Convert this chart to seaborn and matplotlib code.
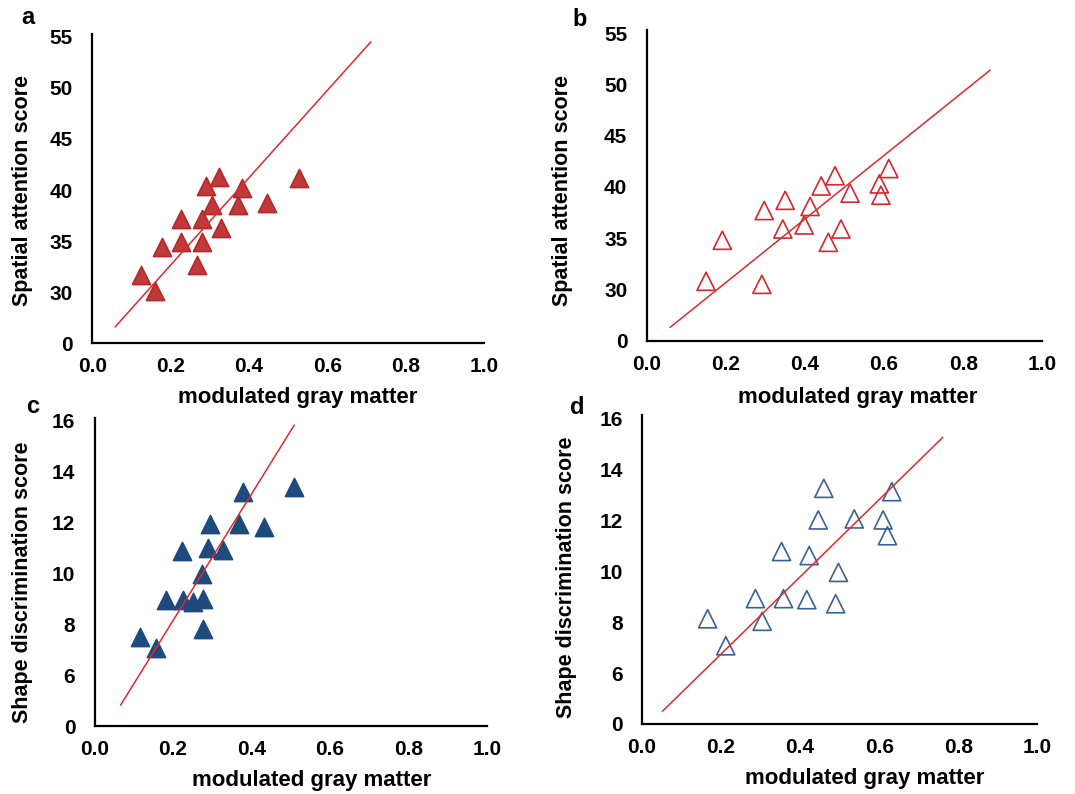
import matplotlib
matplotlib.use("Agg")
import matplotlib.pyplot as plt
import seaborn as sns
import pandas as pd
import numpy as np

sns.set_theme(style="white")
plt.rcParams['font.family'] = ['Liberation Sans', 'DejaVu Sans']
plt.rcParams['font.weight'] = 'bold'

# ---- data ----
a_x = [0.125, 0.160, 0.177, 0.226, 0.226, 0.267, 0.279, 0.279, 0.289, 0.306, 0.323, 0.328, 0.373, 0.381, 0.445, 0.528]
a_y = [31.7, 30.1, 34.4, 37.2, 34.9, 32.7, 34.9, 37.2, 40.4, 38.5, 41.3, 36.3, 38.5, 40.2, 38.7, 41.2]
a_line_x = [0.058, 0.711]
a_line_y = [26.6, 54.5]

b_x = [0.150, 0.191, 0.291, 0.297, 0.350, 0.344, 0.398, 0.413, 0.441, 0.459, 0.476, 0.491, 0.514, 0.588, 0.592, 0.612]
b_y = [30.8, 34.8, 30.5, 37.7, 38.7, 35.9, 36.3, 38.1, 40.1, 34.6, 41.1, 35.9, 39.4, 40.3, 39.2, 41.8]
b_line_x = [0.059, 0.868]
b_line_y = [26.3, 51.4]

c_x = [0.116, 0.156, 0.181, 0.222, 0.226, 0.250, 0.273, 0.277, 0.276, 0.288, 0.294, 0.327, 0.367, 0.379, 0.432, 0.509]
c_y = [7.48, 7.05, 8.95, 10.89, 8.95, 8.88, 9.97, 8.98, 7.83, 10.98, 11.96, 10.91, 11.96, 13.21, 11.83, 13.38]
c_line_x = [0.066, 0.509]
c_line_y = [4.82, 15.83]

d_x = [0.166, 0.212, 0.287, 0.304, 0.353, 0.358, 0.417, 0.423, 0.446, 0.460, 0.490, 0.497, 0.537, 0.610, 0.621, 0.632]
d_y = [8.13, 7.07, 8.92, 8.03, 10.77, 8.92, 8.88, 10.61, 12.01, 13.25, 8.72, 9.95, 12.05, 12.01, 11.39, 13.12]
d_line_x = [0.052, 0.761]
d_line_y = [4.5, 15.25]

x_ticks = [0.0, 0.2, 0.4, 0.6, 0.8, 1.0]
x_tick_labels = ["0.0", "0.2", "0.4", "0.6", "0.8", "1.0"]
att_ticks = [25, 30, 35, 40, 45, 50, 55]
att_tick_labels = ["0", "30", "35", "40", "45", "50", "55"]
shape_ticks = [4, 6, 8, 10, 12, 14, 16]
shape_tick_labels = ["0", "6", "8", "10", "12", "14", "16"]

xlabel = "modulated gray matter"
ylabel_att = "Spatial attention score"
ylabel_shape = "Shape discrimination score"
panel_letters = ["a", "b", "c", "d"]

RED_FILL = "#c0393b"
RED_EDGE = "#b52828"
RED_OPEN = "#d8262b"
BLUE_FILL = "#1f4a7e"
BLUE_OPEN = "#3b6194"
LINE_RED = "#e0282c"

fig = plt.figure(figsize=(10.75, 7.94), dpi=100)

panels = [
    dict(rect=[0.0859, 0.5676, 0.3644, 0.3861], x=a_x, y=a_y, lx=a_line_x, ly=a_line_y,
         fc=RED_FILL, ec=RED_EDGE, lw=1.2, ticks=att_ticks, tl=att_tick_labels, ylab=ylabel_att,
         ylim=(25, 55), xlc=(0.525, -0.176), ylc=(-0.178, 0.5), letter=(28, 18)),
    dict(rect=[0.6016, 0.5709, 0.3680, 0.3872], x=b_x, y=b_y, lx=b_line_x, ly=b_line_y,
         fc="none", ec=RED_OPEN, lw=1.2, ticks=att_ticks, tl=att_tick_labels, ylab=ylabel_att,
         ylim=(25, 55), xlc=(0.534, -0.186), ylc=(-0.212, 0.49), letter=(580, 20)),
    dict(rect=[0.0881, 0.0856, 0.3647, 0.3845], x=c_x, y=c_y, lx=c_line_x, ly=c_line_y,
         fc=BLUE_FILL, ec=BLUE_FILL, lw=1.2, ticks=shape_ticks, tl=shape_tick_labels, ylab=ylabel_shape,
         ylim=(4, 16), xlc=(0.554, -0.177), ylc=(-0.185, 0.47), letter=(33, 407)),
    dict(rect=[0.5972, 0.0882, 0.3677, 0.3850], x=d_x, y=d_y, lx=d_line_x, ly=d_line_y,
         fc="none", ec=BLUE_OPEN, lw=1.2, ticks=shape_ticks, tl=shape_tick_labels, ylab=ylabel_shape,
         ylim=(4, 16), xlc=(0.564, -0.177), ylc=(-0.19, 0.48), letter=(577, 408)),
]

for p, letter in zip(panels, panel_letters):
    ax = fig.add_axes(p["rect"])
    df = pd.DataFrame({"x": p["x"], "y": p["y"]})
    ldf = pd.DataFrame({"x": p["lx"], "y": p["ly"]})
    sns.scatterplot(data=df, x="x", y="y", ax=ax, marker="^", s=170,
                    facecolor=p["fc"], edgecolor=p["ec"], linewidth=p["lw"], zorder=2)
    sns.lineplot(data=ldf, x="x", y="y", ax=ax, color=LINE_RED, linewidth=1.1, zorder=3)
    ax.set_xlim(0, 1.0)
    ax.set_ylim(*p["ylim"])
    ax.set_xticks(x_ticks)
    ax.set_xticklabels(x_tick_labels)
    ax.set_yticks(p["ticks"])
    ax.set_yticklabels(p["tl"])
    for s in ["top", "right"]:
        ax.spines[s].set_visible(False)
    for s in ["left", "bottom"]:
        ax.spines[s].set_color("black")
        ax.spines[s].set_linewidth(1.6)
    ax.spines["left"].set_bounds(p["ylim"][0], p["ylim"][1] + (p["ylim"][1]-p["ylim"][0])*0.01)
    ax.set_facecolor("white")
    ax.grid(False)
    ax.tick_params(axis="both", direction="out", length=5, width=1.6, color="black",
                   labelsize=15, labelcolor="black")
    ax.tick_params(axis="x", pad=5)
    ax.tick_params(axis="y", pad=9)
    for t in ax.get_xticklabels() + ax.get_yticklabels():
        t.set_fontweight("bold")
    ax.set_xlabel(xlabel, fontsize=16, fontweight="bold", color="black")
    ax.set_ylabel(p["ylab"], fontsize=15.5, fontweight="bold", color="black")
    ax.xaxis.label.set_va("center")
    ax.yaxis.label.set_va("center")
    ax.xaxis.set_label_coords(*p["xlc"])
    ax.yaxis.set_label_coords(*p["ylc"])
    lx, ly = p["letter"]
    fig.text(lx / 1075, 1 - ly / 794, letter, fontsize=17, fontweight="bold",
             ha="center", va="center", color="black")

fig.savefig("out.png", dpi=100, facecolor="white")
